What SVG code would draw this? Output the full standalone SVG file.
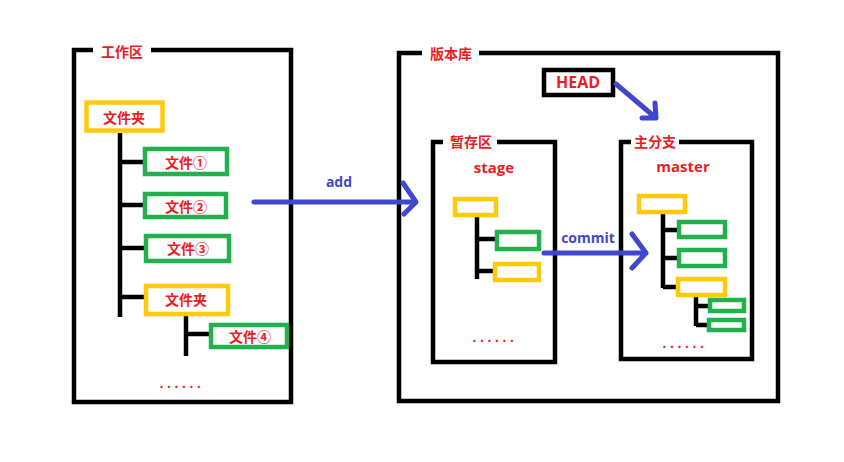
<svg xmlns="http://www.w3.org/2000/svg" width="844" height="462" viewBox="0 0 844 462">
<style>
.frame{fill:none;stroke:#000;stroke-width:4.5}
.tree{fill:none;stroke:#000;stroke-width:4.5;stroke-linecap:butt}
.y{fill:#fff;stroke:#ffc90e;stroke-width:4.5}
.g{fill:#fff;stroke:#22b14c;stroke-width:4.5}
.cn{font-family:"Noto Sans CJK SC","Noto Sans",sans-serif;font-weight:bold;font-size:14px;fill:#ed1c24;text-anchor:middle;dominant-baseline:central}
.en{font-family:"Open Sans","Liberation Sans",sans-serif;font-weight:bold;font-size:15px;fill:#ed1c24;text-anchor:middle;dominant-baseline:central}
.bl{font-family:"Open Sans","Liberation Sans",sans-serif;font-weight:bold;font-size:14px;fill:#3f48cc;text-anchor:middle;dominant-baseline:central}
.dots{font-family:"Liberation Sans",sans-serif;font-weight:bold;font-size:14px;fill:#ed1c24;text-anchor:middle;letter-spacing:3.6px}
.arr{fill:none;stroke:#3f48cc;stroke-width:5;stroke-linecap:round;stroke-linejoin:round}
.gap{fill:#fff}
</style>
<rect width="844" height="462" fill="#fff"/>

<g id="workspace">
  <rect class="frame" x="74" y="50" width="217" height="352"/>
  <rect class="gap" x="93" y="44" width="58" height="12"/>
  <text class="cn" x="122" y="51">工作区</text>
</g>

<g id="ws-tree">
  <path class="tree" d="M120 133V317M120 162H145M120 205H145M120 248H146M120 297H146M186 316V356M186 334H211"/>
</g>
<g id="ws-folder"><rect class="y" x="86.5" y="102.5" width="76" height="28"/><text class="cn" x="124" y="117">文件夹</text></g>
<g id="ws-file1"><rect class="g" x="145" y="149" width="82" height="25"/><text class="cn" x="186" y="162">文件①</text></g>
<g id="ws-file2"><rect class="g" x="145" y="194" width="81" height="23"/><text class="cn" x="186" y="206">文件②</text></g>
<g id="ws-file3"><rect class="g" x="146" y="236" width="83" height="25"/><text class="cn" x="188" y="248">文件③</text></g>
<g id="ws-folder2"><rect class="y" x="146" y="286" width="82" height="28"/><text class="cn" x="186" y="299">文件夹</text></g>
<g id="ws-file4"><rect class="g" x="211" y="325" width="76" height="22"/><text class="cn" x="250" y="336">文件④</text></g>
<g id="ws-dots"><text class="dots" x="182" y="388">......</text></g>

<g id="repo">
  <rect class="frame" x="399" y="53" width="379" height="348"/>
  <rect class="gap" x="422" y="46" width="57" height="12"/>
  <text class="cn" x="451" y="53">版本库</text>
</g>

<g id="head">
  <rect class="frame" x="544" y="70" width="69" height="25"/>
  <text class="en" x="578" y="82" style="font-size:16px">HEAD</text>
</g>

<g id="stage">
  <rect class="frame" x="433" y="142" width="122" height="220"/>
  <rect class="gap" x="443" y="136" width="54" height="12"/>
  <text class="cn" x="471" y="141">暂存区</text>
  <text class="en" x="494" y="167">stage</text>
</g>
<g id="stage-tree">
  <path class="tree" d="M477 216V279M477 239H497M477 271H495"/>
  <rect class="y" x="455" y="199" width="41" height="16"/>
  <rect class="g" x="497" y="232" width="42" height="17"/>
  <rect class="y" x="495" y="264" width="44" height="16"/>
  <text class="dots" x="495" y="342">......</text>
</g>

<g id="master">
  <rect class="frame" x="621" y="142" width="131" height="217"/>
  <rect class="gap" x="631" y="136" width="48" height="12"/>
  <text class="cn" x="655" y="141">主分支</text>
  <text class="en" x="683" y="166">master</text>
</g>
<g id="master-tree">
  <path class="tree" d="M663 214V288M663 230H679M663 258H679M663 287H678M696 297V326M696 306H710M696 325H709"/>
  <rect class="y" x="639" y="196" width="46" height="16"/>
  <rect class="g" x="679" y="222" width="46" height="15"/>
  <rect class="g" x="679" y="250" width="46" height="16"/>
  <rect class="y" x="678" y="279" width="47" height="16"/>
  <rect class="g" x="710" y="300" width="34" height="11"/>
  <rect class="g" x="709" y="320" width="35" height="10"/>
  <text class="dots" x="685" y="348">......</text>
</g>

<g id="connectors">
  <path class="arr" d="M254 202H416M403 183L416 202L404 214"/>
  <text class="bl" x="339" y="181">add</text>
  <path class="arr" d="M544 253H646M632 234L646 253L632 268"/>
  <text class="bl" x="588" y="237">commit</text>
  <path class="arr" d="M616 84L656 118M655 103L656 118L642 118"/>
</g>
</svg>
